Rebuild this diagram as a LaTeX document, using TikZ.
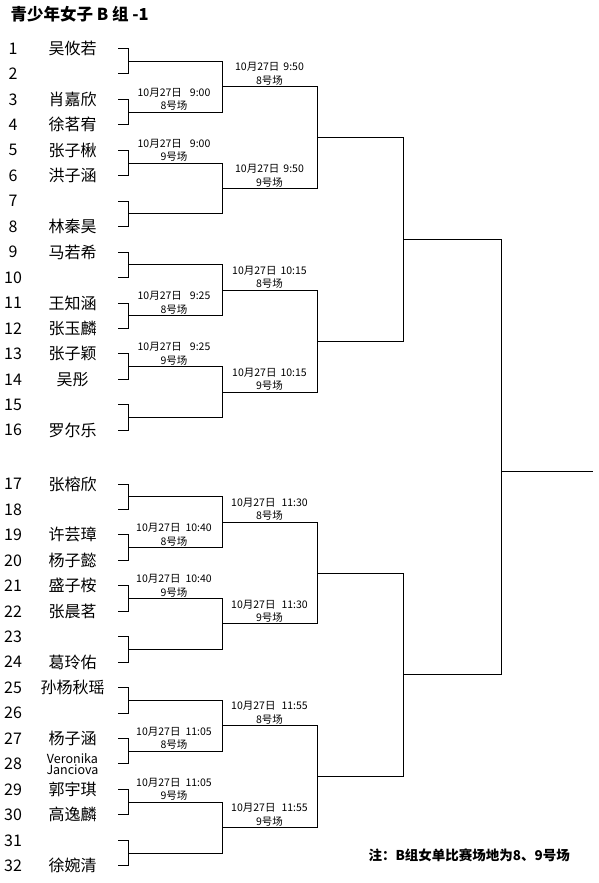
\documentclass[tikz,border=0pt]{standalone}
\usepackage{fontspec}
\setmainfont{Noto Sans CJK SC}
\usepackage{xcolor}
\usepackage{tikz}
\usetikzlibrary{calc}

\tikzset{
  heading/.style={font=\bfseries\fontsize{16.5}{18}\selectfont, inner sep=0pt, anchor=west},
  seed/.style={font=\fontsize{16}{18}\selectfont, inner sep=0pt},
  player/.style={font=\fontsize{16}{18}\selectfont, inner sep=0pt},
  matchinfo/.style={font=\fontsize{10.5}{13.5}\selectfont, align=center, anchor=south, inner sep=1pt},
  footnote/.style={font=\bfseries\fontsize{13.5}{16}\selectfont, inner sep=0pt, anchor=west},
}

\begin{document}
\begin{tikzpicture}[x=1pt, y=-1pt, line width=1pt]
  \useasboundingbox (0,0) rectangle (599,883);
  \node[heading] (title) at (10,14) {青少年女子 B 组 -1};
  \foreach \i in {1,...,32}{
    \pgfmathsetmacro\ry{\i<17 ? 48.5+(\i-1)*25.45 : 484+(\i-17)*25.45}
    \node[seed] (n\i) at (13,\ry) {\i};
    \coordinate (r\i) at (118,\ry);
  }
  \foreach \i/\nm in {1/吴攸若, 3/肖嘉欣, 4/徐茗宥, 5/张子楸, 6/洪子涵, 8/林秦昊,
      9/马若希, 11/王知涵, 12/张玉麟, 13/张子颖, 14/吴彤, 16/罗尔乐,
      17/张榕欣, 19/许芸璋, 20/杨子懿, 21/盛子桉, 22/张晨茗, 24/葛玲佑,
      25/孙杨秋瑶, 27/杨子涵, 29/郭宇琪, 30/高逸麟, 32/徐婉清}
    \node[player] (p\i) at ([xshift=-45.5pt]r\i) {\nm};
  \node[player, font=\fontsize{12.5}{11}\selectfont, align=center] (p28) at ([xshift=-45.5pt]r28) {Veronika\\Janciova};
  \foreach \k in {1,...,16}{
    \pgfmathtruncatemacro\a{2*\k-1}
    \pgfmathtruncatemacro\b{2*\k}
    \draw (r\a) -- ++(10,0) |- (r\b);
    \coordinate (q1-\k) at ($(r\a)!0.5!(r\b)+(10,0)$);
  }
  \foreach \k in {1,...,8}{
    \pgfmathtruncatemacro\a{2*\k-1}
    \pgfmathtruncatemacro\b{2*\k}
    \draw (q1-\a) -- ++(94,0) |- (q1-\b);
    \coordinate (q2-\k) at ($(q1-\a)!0.5!(q1-\b)+(94,0)$);
  }
  \foreach \k in {1,...,4}{
    \pgfmathtruncatemacro\a{2*\k-1}
    \pgfmathtruncatemacro\b{2*\k}
    \draw (q2-\a) -- ++(95,0) |- (q2-\b);
    \coordinate (q3-\k) at ($(q2-\a)!0.5!(q2-\b)+(95,0)$);
  }
  \foreach \k in {1,2}{
    \pgfmathtruncatemacro\a{2*\k-1}
    \pgfmathtruncatemacro\b{2*\k}
    \draw (q3-\a) -- ++(86,0) |- (q3-\b);
    \coordinate (q4-\k) at ($(q3-\a)!0.5!(q3-\b)+(86,0)$);
  }
  \draw (q4-1) -- ++(98,0) |- (q4-2);
  \coordinate (champ) at (501,471);
  \coordinate (winner) at (593,471);
  \draw (champ) -- (winner);
  \foreach \k/\tm/\ct in {2/{10月27日\hspace{8pt}9:00}/8号场, 3/{10月27日\hspace{8pt}9:00}/9号场,
      6/{10月27日\hspace{8pt}9:25}/8号场, 7/{10月27日\hspace{8pt}9:25}/9号场,
      10/{10月27日\hspace{5pt}10:40}/8号场, 11/{10月27日\hspace{5pt}10:40}/9号场,
      14/{10月27日\hspace{5pt}11:05}/8号场, 15/{10月27日\hspace{5pt}11:05}/9号场}
    \node[matchinfo] (m1-\k) at ($(q1-\k)+(46,0)$) {\tm\\\ct};
  \foreach \k/\tm/\ct in {1/{10月27日\hspace{4pt}9:50}/8号场, 2/{10月27日\hspace{4pt}9:50}/9号场,
      3/{10月27日\hspace{4pt}10:15}/8号场, 4/{10月27日\hspace{4pt}10:15}/9号场,
      5/{10月27日\hspace{6pt}11:30}/8号场, 6/{10月27日\hspace{6pt}11:30}/9号场,
      7/{10月27日\hspace{6pt}11:55}/8号场, 8/{10月27日\hspace{6pt}11:55}/9号场}
    \node[matchinfo] (m2-\k) at ($(q2-\k)+(47.5,0)$) {\tm\\\ct};
  \node[footnote] (note) at (368,855) {注：B组女单比赛场地为8、9号场};
\end{tikzpicture}
\end{document}
